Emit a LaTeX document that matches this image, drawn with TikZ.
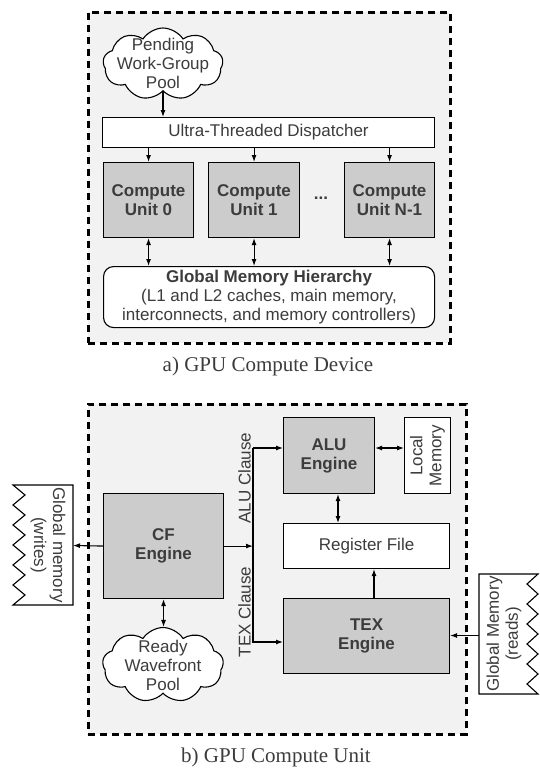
\documentclass[tikz,border=0pt]{standalone}
\usepackage{fontspec}
\setmainfont{Liberation Sans}
\newfontfamily\capfont{Liberation Serif}
\usetikzlibrary{shapes.symbols,arrows.meta}
\definecolor{bgfill}{HTML}{F2F2F2}
\definecolor{boxgray}{HTML}{CCCCCC}
\definecolor{txt}{HTML}{3C3C3C}
\begin{document}
\begin{tikzpicture}[x=1pt,y=-1pt,
  every node/.style={font=\fontsize{17}{19}\selectfont, text=txt},
  frame/.style={draw=black, line width=2.8pt, dash pattern=on 7pt off 5pt, fill=bgfill, anchor=north west, inner sep=0pt},
  whitebox/.style={draw=black, line width=1.1pt, fill=white, align=center, inner sep=0pt, anchor=north west},
  graybox/.style={draw=black, line width=1.1pt, fill=boxgray, align=center, inner sep=0pt, anchor=north west, font=\bfseries\fontsize{17}{19}\selectfont},
  cloudn/.style={cloud, cloud puffs=9, cloud puff arc=115, draw=black, line width=1.1pt, fill=white, inner sep=0pt},
  lbl/.style={align=center, inner sep=0pt},
  caption/.style={font=\capfont\fontsize{21}{24}\selectfont, inner sep=0pt},
  arr/.style={line width=1.1pt, -{Latex[length=7pt,width=5pt]}},
  darr/.style={line width=1.1pt, {Latex[length=7pt,width=5pt]}-{Latex[length=7pt,width=5pt]}},
  zig/.style={draw=black, line width=1.1pt, fill=white}
]
\useasboundingbox (0,0) rectangle (539,768);

% ---------- a) GPU Compute Device ----------
\node[frame, minimum width=362pt, minimum height=331pt] (frameA) at (87,11) {};
\node[cloudn, minimum width=120pt, minimum height=72pt] (pool1) at (163,64) {};
\node[lbl] (pool1t) at (163,63) {Pending\\Work-Group\\Pool};
\node[whitebox, minimum width=332pt, minimum height=30pt] (disp) at (102,117) {Ultra-Threaded Dispatcher};
\node[graybox, minimum width=90pt, minimum height=75pt] (cu0) at (103,162) {Compute\\Unit 0};
\node[graybox, minimum width=91pt, minimum height=75pt] (cu1) at (208,162) {Compute\\Unit 1};
\node[graybox, minimum width=90pt, minimum height=75pt] (cun) at (344,162) {Compute\\Unit N-1};
\node[lbl, font=\bfseries\fontsize{17}{19}\selectfont] (dots) at (321,198) {...};
\node[whitebox, rounded corners=10pt, minimum width=331pt, minimum height=61pt] (gmh) at (103,266)
  {\textbf{Global Memory Hierarchy}\\(L1 and L2 caches, main memory,\\interconnects, and memory controllers)};
\node[caption] (capA) at (268,366) {a) GPU Compute Device};

\draw[arr] (pool1.south) -- (pool1.south |- disp.north);
\draw[arr] (disp.south -| cu0) -- (cu0.north);
\draw[arr] (disp.south -| cu1) -- (cu1.north);
\draw[arr] (disp.south -| cun) -- (cun.north);
\draw[darr] (cu0.south) -- (cu0.south |- gmh.north);
\draw[darr] (cu1.south) -- (cu1.south |- gmh.north);
\draw[darr] (cun.south) -- (cun.south |- gmh.north);

% ---------- b) GPU Compute Unit ----------
\node[frame, minimum width=378pt, minimum height=330pt] (frameB) at (87,403) {};
\node[graybox, minimum width=120pt, minimum height=105pt] (cf) at (103,493) {CF\\Engine};
\node[graybox, minimum width=91pt, minimum height=76pt] (alu) at (283,417) {ALU\\Engine};
\node[whitebox, minimum width=46pt, minimum height=76pt] (lmem) at (404,417) {};
\node[lbl, rotate=90] (lmemt) at (lmem.center) {Local\\Memory};
\node[whitebox, minimum width=166pt, minimum height=45pt] (reg) at (283,523) {Register File};
\node[graybox, minimum width=166pt, minimum height=75pt] (tex) at (283,598) {TEX\\Engine};
\node[cloudn, minimum width=121pt, minimum height=75pt] (pool2) at (163,665) {};
\node[lbl] (pool2t) at (163,665) {Ready\\Wavefront\\Pool};

% global memory (writes)
\draw[zig] (73,485) -- (13,485) -- (25,495) -- (13,505) -- (25,515) -- (13,525) -- (25,535) -- (13,545)
  -- (25,555) -- (13,565) -- (25,575) -- (13,585) -- (25,595) -- (13,605) -- (73,605) -- cycle;
\node[lbl, rotate=-90] (wrt) at (48,545) {Global memory\\(writes)};
\coordinate (wr) at (73,545.5);

% global memory (reads)
\draw[zig] (479,574) -- (538,574) -- (527,584) -- (538,594) -- (527,604) -- (538,614) -- (527,624) -- (538,634)
  -- (527,644) -- (538,654) -- (527,664) -- (538,674) -- (527,684) -- (538,694) -- (479,694) -- cycle;
\node[lbl, rotate=90] (rdt) at (504,634) {Global Memory\\(reads)};
\coordinate (rd) at (479,635.5);

% clause lines
\coordinate (jA) at (253,448);
\coordinate (jT) at (253,642);
\node[lbl, rotate=90] (aluc) at (244.5,478) {ALU Clause};
\node[lbl, rotate=90] (texc) at (244.5,612) {TEX Clause};
\draw[arr] (jA) -- (jA -| alu.west);
\draw[arr] (jA) -- (jT) -- (jT -| tex.west);
\draw[arr] (cf.east) -- (cf.east -| jA);
\draw[arr] (cf.west) -- (wr);
\draw[darr] (cf.south) -- (cf.south |- pool2.north);
\draw[darr] (alu.east |- jA) -- (lmem.west |- jA);
\coordinate (xar) at (338,0);
\coordinate (xtr) at (374,0);
\draw[darr] (alu.south -| xar) -- (reg.north -| xar);
\draw[arr] (tex.north -| xtr) -- (reg.south -| xtr);
\draw[arr] (rd) -- (rd -| tex.east);

\node[caption] (capB) at (276,757) {b) GPU Compute Unit};
\end{tikzpicture}
\end{document}
